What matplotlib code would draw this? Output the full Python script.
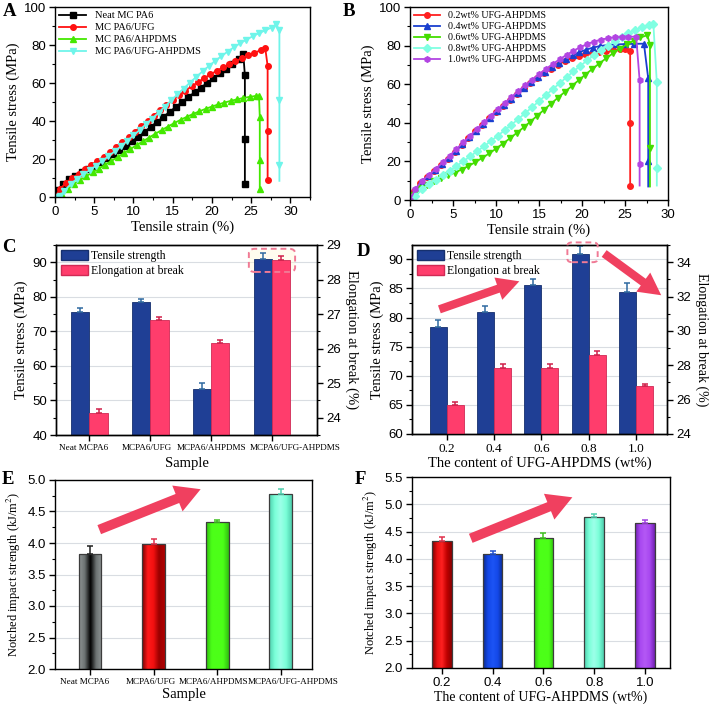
import numpy as np
import matplotlib
matplotlib.use("Agg")
import matplotlib.pyplot as plt
from matplotlib.ticker import AutoMinorLocator, MultipleLocator, FormatStrFormatter
from matplotlib.colors import LinearSegmentedColormap
from matplotlib.patches import FancyBboxPatch, FancyArrowPatch, Patch

# %% Data
# A: stress-strain curves (strain %, stress MPa)
a_neat_x = [0, 0.3, 1.0, 1.8, 2.6, 3.4, 4.2, 5.0, 5.8, 6.6, 7.4, 8.2, 9.0, 9.8, 10.6, 11.4, 12.2, 13.0,
            13.8, 14.6, 15.4, 16.2, 17.0, 17.8, 18.6, 19.4, 20.2, 21.0, 21.8, 22.6, 23.4, 24.0, 24.2, 24.2, 24.2]
a_neat_y = [0, 3.7, 6.8, 9.3, 11.3, 13.0, 14.7, 16.4, 18.3, 20.3, 22.4, 24.6, 26.9, 29.3, 31.8, 34.3, 36.9, 39.5,
            42.1, 44.8, 47.4, 50.0, 52.6, 55.1, 57.6, 60.0, 62.4, 65.0, 67.6, 70.2, 72.8, 75.3, 64.0, 30.5, 7.0]
a_ufg_x = [0, 0.6, 1.4, 2.2, 3.0, 3.8, 4.6, 5.4, 6.2, 7.0, 7.8, 8.6, 9.4, 10.2, 11.0, 11.8, 12.6, 13.4, 14.2,
           15.0, 15.8, 16.6, 17.4, 18.2, 19.0, 19.8, 20.6, 21.4, 22.2, 23.0, 23.8, 24.6, 25.4, 26.2, 26.8,
           27.1, 27.1, 27.1]
a_ufg_y = [0, 4.0, 7.4, 10.0, 12.3, 14.5, 16.7, 19.0, 21.3, 23.8, 26.3, 28.9, 31.5, 34.4, 37.3, 40.0, 42.8, 45.6,
           48.3, 51.0, 53.5, 55.9, 58.2, 60.4, 62.5, 64.5, 66.4, 68.2, 69.9, 71.5, 73.0, 74.5, 75.9, 77.2, 78.2,
           69.0, 34.5, 8.7]
a_ahp_x = [0, 0.9, 1.6, 2.4, 3.2, 4.0, 4.8, 5.6, 6.4, 7.2, 8.0, 8.8, 9.6, 10.4, 11.2, 12.0, 12.8, 13.6, 14.4,
           15.2, 16.0, 16.8, 17.6, 18.4, 19.2, 20.0, 20.8, 21.6, 22.4, 23.2, 24.0, 24.8, 25.6, 26.0,
           26.1, 26.1, 26.1]
a_ahp_y = [0, 0.8, 4.0, 6.8, 9.0, 11.0, 13.0, 15.0, 17.0, 19.0, 21.0, 23.1, 25.2, 27.3, 29.3, 31.3, 33.3, 35.2,
           37.1, 38.9, 40.6, 42.2, 43.7, 45.1, 46.4, 47.6, 48.7, 49.7, 50.6, 51.4, 52.1, 52.7, 53.2, 53.3,
           42.0, 19.5, 4.0]
a_both_x = [0, 0.6, 1.2, 2.0, 2.8, 3.6, 4.4, 5.2, 6.0, 6.8, 7.6, 8.4, 9.2, 10.0, 10.8, 11.6, 12.4, 13.2, 14.0,
            14.8, 15.6, 16.4, 17.2, 18.0, 18.8, 19.6, 20.4, 21.2, 22.0, 22.8, 23.6, 24.4, 25.2, 26.0, 26.8,
            27.6, 28.2, 28.6, 28.6, 28.6, 28.6]
a_both_y = [0, 0.3, 3.2, 6.8, 9.6, 11.9, 14.0, 16.4, 18.9, 21.4, 24.0, 26.7, 29.5, 32.4, 35.3, 38.3, 41.3, 44.4,
            47.6, 50.8, 54.0, 57.1, 60.2, 63.2, 66.1, 68.9, 71.6, 74.1, 76.5, 78.8, 80.9, 82.8, 84.6, 86.2,
            87.7, 89.2, 90.8, 88.0, 51.0, 16.8, 8.5]

# B: curves for different UFG-AHPDMS contents
b02_x = [0, 0.5, 1.2, 2.0, 2.8, 3.6, 4.4, 5.2, 6.0, 6.8, 7.6, 8.4, 9.2, 10.0, 10.8, 11.6, 12.4, 13.2, 14.0,
         14.8, 15.6, 16.4, 17.2, 18.0, 18.8, 19.6, 20.4, 21.2, 22.0, 22.8, 23.6, 24.4, 25.0, 25.6, 25.6, 25.6]
b02_y = [0, 4.5, 9.0, 12.0, 15.0, 18.2, 21.5, 25.0, 28.5, 32.0, 35.5, 39.0, 42.4, 45.6, 48.8, 51.9, 54.9, 57.8,
         60.6, 63.3, 65.8, 68.1, 70.2, 72.0, 73.5, 74.7, 75.7, 76.4, 76.9, 77.3, 77.7, 78.0, 78.3, 77.0, 40.0, 7.0]
b04_x = [0, 0.6, 1.3, 2.1, 2.9, 3.7, 4.5, 5.3, 6.1, 6.9, 7.7, 8.5, 9.3, 10.1, 10.9, 11.7, 12.5, 13.3, 14.1,
         14.9, 15.7, 16.5, 17.3, 18.1, 18.9, 19.7, 20.5, 21.3, 22.1, 23.0, 24.0, 25.0, 26.0, 27.2,
         27.7, 27.7, 27.7]
b04_y = [0, 5.0, 9.5, 12.5, 15.5, 18.7, 22.0, 25.4, 28.9, 32.4, 35.9, 39.3, 42.7, 46.0, 49.2, 52.3, 55.3, 58.2,
         61.0, 63.7, 66.3, 68.7, 71.0, 73.1, 75.0, 76.6, 77.9, 79.0, 79.8, 80.3, 80.6, 80.8, 80.9, 81.0,
         63.0, 20.0, 7.0]
b06_x = [0, 0.5, 1.2, 2.0, 2.8, 3.6, 4.4, 5.2, 6.0, 6.8, 7.6, 8.4, 9.2, 10.0, 10.8, 11.6, 12.4, 13.2, 14.0,
         14.8, 15.6, 16.4, 17.2, 18.0, 18.8, 19.6, 20.4, 21.2, 22.0, 22.8, 23.6, 24.4, 25.2, 26.0, 26.8, 27.6,
         27.9, 27.9, 27.9]
b06_y = [0, 2.5, 6.0, 8.0, 9.7, 11.2, 12.7, 14.2, 15.8, 17.6, 19.6, 21.8, 24.1, 26.6, 29.2, 31.9, 34.7, 37.6,
         40.6, 43.7, 46.8, 49.9, 53.0, 56.0, 59.0, 62.0, 65.0, 67.9, 70.7, 73.4, 76.0, 78.4, 80.6, 82.5, 84.2,
         85.4, 80.5, 27.0, 7.0]
b08_x = [0, 0.6, 1.4, 2.2, 3.0, 3.8, 4.6, 5.4, 6.2, 7.0, 7.8, 8.6, 9.4, 10.2, 11.0, 11.8, 12.6, 13.4, 14.2,
         15.0, 15.8, 16.6, 17.4, 18.2, 19.0, 19.8, 20.6, 21.4, 22.2, 23.0, 23.8, 24.6, 25.4, 26.2, 27.0, 27.8,
         28.3, 28.7, 28.7, 28.7]
b08_y = [0, 2.0, 5.5, 8.2, 10.5, 12.8, 15.2, 17.6, 20.1, 22.6, 25.2, 27.8, 30.5, 33.3, 36.1, 39.0, 42.0, 45.0,
         48.1, 51.2, 54.3, 57.4, 60.5, 63.6, 66.6, 69.5, 72.3, 75.0, 77.6, 80.0, 82.3, 84.4, 86.3, 88.0, 89.4,
         90.5, 91.0, 61.0, 16.5, 7.5]
b10_x = [0, 0.6, 1.4, 2.2, 3.0, 3.8, 4.6, 5.4, 6.2, 7.0, 7.8, 8.6, 9.4, 10.2, 11.0, 11.8, 12.6, 13.4, 14.2,
         15.0, 15.8, 16.6, 17.4, 18.2, 19.0, 19.8, 20.6, 21.4, 22.2, 23.0, 23.8, 24.6, 25.4, 26.3,
         26.7, 26.7, 26.7]
b10_y = [0, 5.5, 10.0, 13.0, 16.2, 19.5, 22.9, 26.4, 29.9, 33.4, 36.9, 40.3, 43.7, 47.0, 50.2, 53.4, 56.5, 59.5,
         62.4, 65.2, 67.9, 70.5, 72.9, 75.2, 77.3, 79.2, 80.8, 82.1, 83.1, 83.8, 84.3, 84.5, 84.6, 84.6,
         62.0, 18.7, 7.5]

# C: tensile strength / elongation at break of the four samples
c_samples = ["Neat MCPA6", "MCPA6/UFG", "MCPA6/AHPDMS", "MCPA6/UFG-AHPDMS"]
c_strength = [75.7, 78.5, 53.3, 91.0]
c_strength_err = [1.1, 1.0, 1.7, 1.6]
c_elong = [24.15, 26.84, 26.15, 28.57]
c_elong_err = [0.11, 0.08, 0.1, 0.1]

# D: same properties vs UFG-AHPDMS content
d_content = ["0.2", "0.4", "0.6", "0.8", "1.0"]
d_strength = [78.4, 81.0, 85.6, 90.9, 84.4]
d_strength_err = [1.25, 1.0, 1.1, 1.4, 1.5]
d_elong = [25.67, 27.83, 27.86, 28.6, 26.8]
d_elong_err = [0.18, 0.23, 0.24, 0.23, 0.13]

# E, F: notched impact strength (kJ/m2)
e_impact = [3.82, 3.99, 4.33, 4.77]
e_impact_err = [0.13, 0.07, 0.04, 0.09]
f_impact = [4.33, 4.08, 4.39, 4.76, 4.65]
f_impact_err = [0.07, 0.07, 0.08, 0.06, 0.06]

# %% Style
SERIF = "Liberation Serif"
plt.rcParams["font.family"] = "Liberation Sans"
plt.rcParams["mathtext.fontset"] = "stix"
plt.rcParams["font.size"] = 9.5
plt.rcParams["axes.linewidth"] = 1.0

BLUE, PINK = "#1f3f95", "#ff3d6c"
ARROW = "#f0405f"

fig = plt.figure(figsize=(7.09, 7.04), dpi=100)


def box(l, t, r, b):
    return [l / 709, 1 - b / 704, (r - l) / 709, (b - t) / 704]


def ticks(ax, minor_x=True, minor_y=True):
    ax.tick_params(which="major", direction="out", length=4, width=1, labelsize=9.5, pad=2.5)
    ax.tick_params(which="minor", direction="out", length=2, width=0.8)
    if minor_x:
        ax.xaxis.set_minor_locator(AutoMinorLocator(2))
    if minor_y:
        ax.yaxis.set_minor_locator(AutoMinorLocator(2))


def label(ax, xl, yl, xsize=10.5, ysize=10.5, xpad=2):
    ax.set_xlabel(xl, fontfamily=SERIF, fontsize=xsize, labelpad=xpad)
    ax.set_ylabel(yl, fontfamily=SERIF, fontsize=ysize, labelpad=3)


def sample_labels(ax, pos, names):
    # the original's sample names sit slightly off the bar centres
    ax.set_xticklabels([])
    for xi, n in zip(pos, names):
        ax.annotate(n, (xi, 0), xycoords=("data", "axes fraction"), xytext=(0, -6.5),
                    textcoords="offset points", ha="center", va="top", fontfamily=SERIF, fontsize=6.6)


def shade(ax, bars, cols, ylo):
    # horizontal colour gradient inside each bar (as in the original)
    grad = np.linspace(0, 1, 64).reshape(1, -1)
    for b, c in zip(bars, cols):
        x0, w = b.get_x(), b.get_width()
        y0, y1 = max(b.get_y(), ylo), b.get_y() + b.get_height()
        im = ax.imshow(grad, cmap=LinearSegmentedColormap.from_list("g", c), aspect="auto",
                       extent=[x0, x0 + w, y0, y1], zorder=1.9, interpolation="bilinear")
        im.set_clip_path(b)


def arrow(ax, p0, p1, scale=10, hw=1.6, hl=1.5, tw=0.6):
    ax.add_patch(FancyArrowPatch(p0, p1, arrowstyle=f"simple,head_length={hl},head_width={hw},tail_width={tw}",
                                 mutation_scale=scale, color=ARROW, lw=0, zorder=6, clip_on=False))


# %% A
axA = fig.add_axes(box(55, 7, 310, 197))
for xs, ys, c, m, lab in [(a_neat_x, a_neat_y, "#000000", "s", "Neat MC PA6"),
                          (a_ufg_x, a_ufg_y, "#ff1010", "o", "MC PA6/UFG"),
                          (a_ahp_x, a_ahp_y, "#44e800", "^", "MC PA6/AHPDMS"),
                          (a_both_x, a_both_y, "#6ff5ea", "v", "MC PA6/UFG-AHPDMS")]:
    me = slice(0, len(xs) - 1) if lab == "MC PA6/UFG-AHPDMS" else None
    axA.plot(xs, ys, color=c, marker=m, ms=4, lw=1.3, label=lab, markevery=me)
axA.set_xlim(0, 32.5)
axA.set_ylim(0, 100)
axA.xaxis.set_major_locator(MultipleLocator(5))
axA.yaxis.set_major_locator(MultipleLocator(20))
ticks(axA)
label(axA, "Tensile strain (%)", "Tensile stress (MPa)")
axA.legend(loc="upper left", frameon=False, prop={"family": SERIF, "size": 7.5}, handlelength=2.6,
           labelspacing=0.25, borderaxespad=0.2, borderpad=0.2)

# %% B
axB = fig.add_axes(box(410, 7, 668, 200))
for xs, ys, c, m, lab in [(b02_x, b02_y, "#ff2020", "o", "0.2wt% UFG-AHPDMS"),
                          (b04_x, b04_y, "#1a3fcf", "^", "0.4wt% UFG-AHPDMS"),
                          (b06_x, b06_y, "#44dd00", "v", "0.6wt% UFG-AHPDMS"),
                          (b08_x, b08_y, "#80ffe2", "D", "0.8wt% UFG-AHPDMS"),
                          (b10_x, b10_y, "#b245e2", "h", "1.0wt% UFG-AHPDMS")]:
    me = None if lab.startswith("0.2") else slice(0, len(xs) - 1)
    axB.plot(xs, ys, color=c, marker=m, ms=4, lw=1.3, label=lab, markevery=me)
axB.set_xlim(0, 30)
axB.set_ylim(0, 100)
axB.xaxis.set_major_locator(MultipleLocator(5))
axB.yaxis.set_major_locator(MultipleLocator(20))
ticks(axB)
label(axB, "Tensile strain (%)", "Tensile stress (MPa)")
axB.legend(loc="upper left", frameon=False, prop={"family": SERIF, "size": 7.2}, handlelength=2.6,
           labelspacing=0.2, borderaxespad=0.2, borderpad=0.2)


# %% C and D: twin-axis grouped bars
def twin_bars(rect, names, s, se, e, ee, w, xlim, ylim1, ylim2, step1, step2, tick_size, rsize):
    ax = fig.add_axes(rect)
    ax2 = ax.twinx()
    x = np.arange(len(names))
    ax.bar(x - w / 2, s, w, color=BLUE, edgecolor="#16306e", lw=0.6, zorder=2)
    ax.errorbar(x - w / 2, s, yerr=[np.zeros(len(s)), se], fmt="none", ecolor="#2f6aa0",
                elinewidth=1.1, capsize=2.5, capthick=1.1, zorder=3)
    ax2.bar(x + w / 2, e, w, color=PINK, edgecolor="#d02a55", lw=0.6, zorder=2)
    ax2.errorbar(x + w / 2, e, yerr=[np.zeros(len(e)), ee], fmt="none", ecolor="#d0204a",
                 elinewidth=1.1, capsize=2.5, capthick=1.1, zorder=3)
    ax.set_xlim(*xlim)
    ax.set_ylim(*ylim1)
    ax2.set_ylim(*ylim2)
    ax.yaxis.set_major_locator(MultipleLocator(step1))
    ax2.yaxis.set_major_locator(MultipleLocator(step2))
    ax.set_xticks(x)
    ax.set_xticklabels(names, fontfamily=SERIF, fontsize=tick_size)
    ax.grid(axis="y", color="#d9dde2", lw=0.8)
    ax.set_axisbelow(True)
    ticks(ax, minor_x=False)
    ticks(ax2, minor_x=False)
    ax.tick_params(axis="x", which="major", labelsize=tick_size)
    ax2.set_ylabel("Elongation at break (%)", fontfamily=SERIF, fontsize=rsize, rotation=-90,
                   va="bottom", labelpad=3)
    handles = [Patch(facecolor=BLUE, edgecolor="#16306e"), Patch(facecolor=PINK, edgecolor="#d02a55")]
    ax2.legend(handles, ["Tensile strength", "Elongation at break"], loc="upper left", frameon=False,
               prop={"family": SERIF, "size": 8.5}, handlelength=2.3, handleheight=0.95,
               handletextpad=0.2, labelspacing=0.2, borderaxespad=0.25, borderpad=0.2)
    return ax, ax2


axC, axC2 = twin_bars(box(56, 245, 317, 435), c_samples, c_strength, c_strength_err, c_elong, c_elong_err,
                      0.3, (-0.55, 3.74), (40, 95), (23.5, 29), 10, 1, 6.6, 10.5)
sample_labels(axC, [-0.1, 0.95, 2.0, 3.38], c_samples)
label(axC, "Sample", "Tensile stress (MPa)", xpad=9)
axC.add_patch(FancyBboxPatch((2.62, 87.6), 0.76, 6.1, boxstyle="round,pad=0,rounding_size=0.1",
                             mutation_aspect=12, facecolor="#fff8d0", alpha=0.35, edgecolor="none",
                             zorder=1, clip_on=False))
axC2.add_patch(FancyBboxPatch((2.62, 28.22), 0.76, 0.67, boxstyle="round,pad=0,rounding_size=0.1",
                              mutation_aspect=1.3, facecolor="none", edgecolor="#f07a95", lw=1.4,
                              ls=(0, (3, 2)), zorder=5, clip_on=False))

axD, axD2 = twin_bars(box(412, 245, 667, 434), d_content, d_strength, d_strength_err, d_elong, d_elong_err,
                      0.36, (-0.733, 4.655), (60, 92.47), (24, 35), 5, 2, 9.5, 10)
label(axD, "The content of UFG-AHPDMS (wt%)", "Tensile stress (MPa)", xpad=1)
axD2.add_patch(FancyBboxPatch((2.55, 34.0), 0.64, 1.15, boxstyle="round,pad=0,rounding_size=0.1",
                              mutation_aspect=2.0, facecolor="none", edgecolor="#f07a95", lw=1.4,
                              ls=(0, (3, 2)), zorder=5, clip_on=False))
arrow(axD2, (-0.21, 31.2), (1.59, 32.94), scale=10, hw=1.7, hl=1.6, tw=0.6)
arrow(axD2, (3.28, 34.6), (4.58, 31.98), scale=10, hw=1.7, hl=1.6, tw=0.6)


# %% E and F: single bars with shading
def impact(rect, names, v, ve, w, xlim, ylim, fills, errc, xsize):
    ax = fig.add_axes(rect)
    x = np.arange(len(names))
    bars = ax.bar(x, v, w, facecolor="none", edgecolor="#3c3c3c", lw=0.9, zorder=2)
    shade(ax, bars, fills, ylim[0])
    for xi, vi, ei, ci in zip(x, v, ve, errc):
        ax.errorbar(xi, vi, yerr=[[0], [ei]], fmt="none", ecolor=ci, elinewidth=1.1, capsize=2.5,
                    capthick=1.1, zorder=3)
    ax.set_xlim(*xlim)
    ax.set_ylim(*ylim)
    ax.yaxis.set_major_locator(MultipleLocator(0.5))
    ax.yaxis.set_major_formatter(FormatStrFormatter("%.1f"))
    ax.set_xticks(x)
    ax.set_xticklabels(names, fontsize=xsize)
    ax.grid(axis="y", color="#d9dde2", lw=0.8)
    ax.set_axisbelow(True)
    ticks(ax, minor_x=False)
    ax.tick_params(axis="x", which="major", labelsize=xsize)
    return ax


e_fills = [["#8e9494", "#6c7272", "#000000", "#6c7272", "#8e9494"],
           ["#7a0000", "#ff1a1a", "#f21010", "#9a0000", "#b00000"],
           ["#30c010", "#4cff18", "#4cff18", "#4cff18", "#30c010"],
           ["#4fcfae", "#7affd8", "#9dffe9", "#7affd8", "#4fcfae"]]
axE = impact(box(55, 480, 312, 669), c_samples, e_impact, e_impact_err, 0.36, (-0.55, 3.49), (2.0, 5.0),
             e_fills, ["#202020", "#e0304c", "#40c020", "#4fcfae"], 6.6)
sample_labels(axE, [-0.08, 0.95, 1.95, 3.19], c_samples)
label(axE, "Sample", "Notched impact strength (kJ/m$^2$)", xsize=10.5, ysize=9.0, xpad=7)
arrow(axE, (0.105, 4.196), (1.78, 4.87), scale=10, hw=2.0, hl=1.8, tw=0.7)

f_fills = [["#7a0000", "#e81010", "#ff2020", "#c00000", "#8a0000"],
           ["#0a2a90", "#1448e8", "#1c54f5", "#1448e8", "#0a2a90"],
           ["#30c010", "#4cff18", "#4cff18", "#4cff18", "#30c010"],
           ["#4fcfae", "#7affd8", "#9dffe9", "#7affd8", "#4fcfae"],
           ["#7020b0", "#a848f0", "#b458f5", "#a848f0", "#7020b0"]]
axF = impact(box(412, 477, 670, 668), d_content, f_impact, f_impact_err, 0.39, (-0.585, 4.49), (2.0, 5.5),
             f_fills, ["#e0304c", "#2050d0", "#40c020", "#4fcfae", "#a040e0"], 9.5)
label(axF, "The content of UFG-AHPDMS (wt%)", "Notched impact strength (kJ/m$^2$)", xsize=10,
      ysize=9.0, xpad=1)
arrow(axF, (0.52, 4.357), (2.62, 5.147), scale=10, hw=2.0, hl=1.8, tw=0.7)

# %% Panel letters
for s, px, py in [("A", 3, 12), ("B", 343, 12), ("C", 2, 248), ("D", 357, 252), ("E", 2, 480), ("F", 355, 480)]:
    fig.text(px / 709, 1 - py / 704, s, fontfamily=SERIF, fontweight="bold", fontsize=13.5, va="center")

fig.savefig("out.png", dpi=100)
